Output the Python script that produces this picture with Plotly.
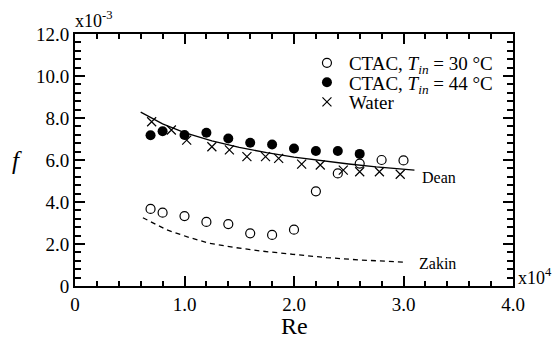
import plotly.graph_objects as go

# Re in units of 1e4, f in units of 1e-3
re_30 = [0.69, 0.80, 1.00, 1.20, 1.40, 1.60, 1.80, 2.00, 2.20, 2.40, 2.60, 2.80, 3.00]
f_30 = [3.67, 3.49, 3.33, 3.05, 2.95, 2.51, 2.43, 2.68, 4.51, 5.36, 5.83, 6.00, 5.98]

re_44 = [0.69, 0.80, 1.00, 1.20, 1.40, 1.60, 1.80, 2.00, 2.20, 2.40, 2.60]
f_44 = [7.18, 7.37, 7.19, 7.30, 7.02, 6.82, 6.74, 6.55, 6.43, 6.43, 6.29]

re_water = [0.70, 0.88, 1.02, 1.25, 1.41, 1.57, 1.74, 1.86, 2.07, 2.24, 2.45, 2.60, 2.78, 2.97]
f_water = [7.82, 7.43, 6.95, 6.63, 6.48, 6.16, 6.16, 6.08, 5.80, 5.76, 5.52, 5.44, 5.44, 5.32]

re_dean = [0.60, 0.80, 1.00, 1.25, 1.50, 1.75, 2.00, 2.25, 2.50, 2.75, 3.10]
f_dean = [8.28, 7.72, 7.30, 6.91, 6.60, 6.35, 6.14, 5.96, 5.81, 5.67, 5.52]

re_zakin = [0.62, 0.84, 1.02, 1.23, 1.45, 1.69, 1.99, 2.30, 2.60, 3.02]
f_zakin = [3.25, 2.67, 2.35, 2.03, 1.84, 1.67, 1.51, 1.35, 1.24, 1.13]

x_ticks = [0, 1, 2, 3, 4]
x_ticktext = ["0", "1.0", "2.0", "3.0", "4.0"]
y_ticks = [0, 2, 4, 6, 8, 10, 12]
y_ticktext = ["0", "2.0", "4.0", "6.0", "8.0", "10.0", "12.0"]

FONT = "Liberation Serif"

fig = go.Figure()
fig.add_trace(go.Scatter(
    x=re_dean, y=f_dean, mode="lines", line=dict(color="black", width=1.3),
    showlegend=False, hoverinfo="skip"))
fig.add_trace(go.Scatter(
    x=re_zakin, y=f_zakin, mode="lines", line=dict(color="black", width=1.3, dash="5px,4px"),
    showlegend=False, hoverinfo="skip"))
fig.add_trace(go.Scatter(
    x=re_30, y=f_30, mode="markers", name="CTAC, <i>T</i><sub><i>in</i></sub> = 30 °C",
    legend="legend",
    marker=dict(symbol="circle-open", size=9, color="black", line=dict(width=1.2, color="black"))))
fig.add_trace(go.Scatter(
    x=re_44, y=f_44, mode="markers", name="CTAC, <i>T</i><sub><i>in</i></sub> = 44 °C",
    legend="legend2",
    marker=dict(symbol="circle", size=10, color="black")))
fig.add_trace(go.Scatter(
    x=re_water, y=f_water, mode="markers", name="Water",
    legend="legend3",
    marker=dict(symbol="x-thin-open", size=9, color="black", line=dict(width=1.2, color="black"))))

axis_common = dict(
    showline=True, linecolor="black", linewidth=2, mirror="allticks",
    ticks="inside", tickcolor="black", tickwidth=1.5, ticklen=10,
    showgrid=False, zeroline=False, automargin=False,
    tickfont=dict(family=FONT, size=19, color="black"),
)

fig.update_xaxes(
    range=[0, 4], tickvals=x_ticks, ticktext=x_ticktext,
    minor=dict(dtick=0.2, ticks="inside", ticklen=5, tickcolor="black", tickwidth=1.5, showgrid=False),
    **axis_common)
fig.update_yaxes(
    range=[0, 12], tickvals=y_ticks, ticktext=y_ticktext,
    minor=dict(dtick=0.4, ticks="inside", ticklen=6, tickcolor="black", tickwidth=1.5, showgrid=False),
    **axis_common)

# axis titles
fig.add_annotation(x=0.5, y=-0.157, xref="paper", yref="paper", xanchor="center", yanchor="middle",
                   text="Re", showarrow=False, font=dict(family=FONT, size=24, color="black"))
fig.add_annotation(x=-0.132, y=0.5, xref="paper", yref="paper", xanchor="center", yanchor="middle",
                   text="<i>f</i>", showarrow=False, font=dict(family=FONT, size=25, color="black"))

fig.add_annotation(x=0, y=1, xref="paper", yref="paper", xanchor="left", yanchor="bottom",
                   text="x10<sup>-3</sup>", showarrow=False, xshift=-2, yshift=1,
                   font=dict(family=FONT, size=18, color="black"))
fig.add_annotation(x=1, y=0, xref="paper", yref="paper", xanchor="left", yanchor="bottom",
                   text="x10<sup>4</sup>", showarrow=False, xshift=3, yshift=-4,
                   font=dict(family=FONT, size=18, color="black"))
fig.add_annotation(x=3.15, y=5.15, xanchor="left", yanchor="middle", text="Dean", showarrow=False,
                   font=dict(family=FONT, size=16, color="black"))
fig.add_annotation(x=3.12, y=1.05, xanchor="left", yanchor="middle", text="Zakin", showarrow=False,
                   font=dict(family=FONT, size=16, color="black"))

leg = dict(x=0.525, xanchor="left", yanchor="middle", bgcolor="rgba(0,0,0,0)",
           font=dict(family=FONT, size=19, color="black"), itemsizing="trace", itemwidth=34)

fig.update_layout(
    width=556, height=339,
    margin=dict(l=75, r=43, t=34, b=53),
    paper_bgcolor="white", plot_bgcolor="white",
    font=dict(family=FONT, size=19, color="black"),
    legend=dict(y=0.885, **leg),
    legend2=dict(y=0.808, **leg),
    legend3=dict(y=0.730, **leg),
)

fig.write_html("out.html")
